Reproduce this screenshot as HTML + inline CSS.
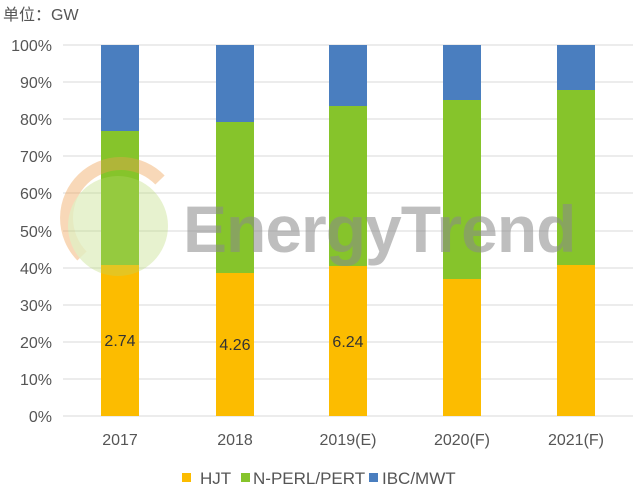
<!DOCTYPE html>
<html><head><meta charset="utf-8"><style>body{margin:0;background:#fff}svg{display:block}</style></head><body>
<svg width="639" height="489" xmlns="http://www.w3.org/2000/svg" font-family="Liberation Sans, Noto Sans CJK SC, sans-serif">
<rect width="639" height="489" fill="#fff"/>
<text x="3" y="20" font-size="16" fill="#555">单位：GW</text>
<g stroke="#d9d9d9" stroke-width="1">
<line x1="63" x2="633" y1="45" y2="45"/><line x1="63" x2="633" y1="82" y2="82"/><line x1="63" x2="633" y1="119" y2="119"/><line x1="63" x2="633" y1="156" y2="156"/><line x1="63" x2="633" y1="193" y2="193"/><line x1="63" x2="633" y1="231" y2="231"/><line x1="63" x2="633" y1="268" y2="268"/><line x1="63" x2="633" y1="305" y2="305"/><line x1="63" x2="633" y1="342" y2="342"/><line x1="63" x2="633" y1="379" y2="379"/><line x1="63" x2="633" y1="416" y2="416"/>
</g>
<g font-size="16" fill="#555" text-anchor="end">
<text x="52" y="51">100%</text><text x="52" y="88">90%</text><text x="52" y="125">80%</text><text x="52" y="162">70%</text><text x="52" y="199">60%</text><text x="52" y="237">50%</text><text x="52" y="274">40%</text><text x="52" y="311">30%</text><text x="52" y="348">20%</text><text x="52" y="385">10%</text><text x="52" y="422">0%</text>
</g>
<g>
<rect x="101" y="45" width="38" height="86" fill="#4a7ebf"/><rect x="101" y="131" width="38" height="134" fill="#86c42b"/><rect x="101" y="265" width="38" height="151" fill="#fcbc00"/>
<rect x="216" y="45" width="38" height="77" fill="#4a7ebf"/><rect x="216" y="122" width="38" height="151" fill="#86c42b"/><rect x="216" y="273" width="38" height="143" fill="#fcbc00"/>
<rect x="329" y="45" width="38" height="61" fill="#4a7ebf"/><rect x="329" y="106" width="38" height="160" fill="#86c42b"/><rect x="329" y="266" width="38" height="150" fill="#fcbc00"/>
<rect x="443" y="45" width="38" height="55" fill="#4a7ebf"/><rect x="443" y="100" width="38" height="179" fill="#86c42b"/><rect x="443" y="279" width="38" height="137" fill="#fcbc00"/>
<rect x="557" y="45" width="38" height="45" fill="#4a7ebf"/><rect x="557" y="90" width="38" height="175" fill="#86c42b"/><rect x="557" y="265" width="38" height="151" fill="#fcbc00"/>
</g>
<g opacity="0.4">
<path d="M82 256 A50 50 0 0 1 160 180" fill="none" stroke="#f0a050" stroke-width="13"/>
<circle cx="118" cy="226" r="50" fill="#b5d86a" opacity="0.8"/>
</g>
<text x="183" y="252" font-size="66" font-weight="bold" fill="#8a8a8a" opacity="0.55" letter-spacing="-1">EnergyTrend</text>
<g font-size="16" fill="#333" text-anchor="middle">
<text x="120" y="346">2.74</text><text x="235" y="350">4.26</text><text x="348" y="347">6.24</text>
</g>
<g font-size="16" fill="#555" text-anchor="middle">
<text x="120" y="445">2017</text><text x="235" y="445">2018</text><text x="348" y="445">2019(E)</text><text x="462" y="445">2020(F)</text><text x="576" y="445">2021(F)</text>
</g>
<g font-size="17" fill="#555">
<rect x="182" y="473" width="9" height="9" fill="#fcbc00"/><text x="200" y="484">HJT</text>
<rect x="241" y="473" width="9" height="9" fill="#86c42b"/><text x="253" y="484">N-PERL/PERT</text>
<rect x="369" y="473" width="9" height="9" fill="#4a7ebf"/><text x="382" y="484">IBC/MWT</text>
</g>
</svg>
</body></html>
